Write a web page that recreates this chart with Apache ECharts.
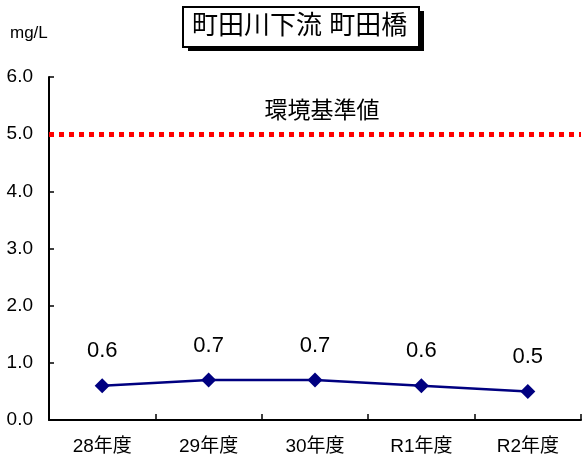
<!DOCTYPE html>
<html>
<head>
<meta charset="utf-8">
<script src="https://cdn.jsdelivr.net/npm/echarts@6/dist/echarts.min.js"></script>
<style>
  html, body { margin: 0; padding: 0; background: #fff; }
  #chart { width: 582px; height: 466px; }
</style>
</head>
<body>
<div id="chart"></div>
<script>
// データ
const categories = ['28年度', '29年度', '30年度', 'R1年度', 'R2年度']
const values = [0.6, 0.7, 0.7, 0.6, 0.5]
const standardValue = 5.0
const standardLabel = '環境基準値'
const titleText = '町田川下流 町田橋'
const unitText = 'mg/L'

const font = '"Liberation Sans", "Noto Sans CJK JP", sans-serif'

const chart = echarts.init(document.getElementById('chart'))

const option = {
  animation: false,
  backgroundColor: '#fff',
  grid: { left: 49, right: 1, top: 77, bottom: 46 },
  graphic: [
    // タイトル枠（影付き）
    { type: 'rect', left: 188, top: 11, shape: { width: 236, height: 40 }, style: { fill: '#000' }, z: 10 },
    { type: 'rect', left: 182, top: 6, shape: { width: 236, height: 40 }, style: { fill: '#fff', stroke: '#000', lineWidth: 2 }, z: 11 },
    {
      type: 'text', left: 192, top: 14, z: 12,
      style: { text: titleText, font: '26px ' + font, fill: '#000' }
    },
    {
      type: 'text', left: 10, top: 25, z: 12,
      style: { text: unitText, font: '17px ' + font, fill: '#000' }
    }
  ],
  xAxis: {
    type: 'category',
    data: categories,
    boundaryGap: true,
    axisLine: { lineStyle: { color: '#000', width: 2 } },
    axisTick: { show: true, inside: true, length: 6, lineStyle: { color: '#000', width: 1.5 } },
    axisLabel: { color: '#000', fontSize: 19, fontFamily: font, margin: 17 }
  },
  yAxis: {
    type: 'value',
    min: 0,
    max: 6,
    interval: 1,
    splitLine: { show: false },
    axisLine: { show: true, lineStyle: { color: '#000', width: 2 } },
    axisTick: { show: true, inside: true, length: 5, lineStyle: { color: '#000', width: 1.5 } },
    axisLabel: {
      color: '#000', fontSize: 19, fontFamily: font, margin: 16,
      formatter: v => v.toFixed(1)
    }
  },
  series: [
    {
      type: 'line',
      data: values,
      symbol: 'diamond',
      symbolSize: 15,
      lineStyle: { color: '#000080', width: 2.5 },
      itemStyle: { color: '#000080' },
      label: {
        show: true,
        position: 'top',
        distance: 16,
        color: '#000',
        fontSize: 22,
        fontFamily: font,
        formatter: p => p.value.toFixed(1)
      },
      markLine: {
        silent: true,
        symbol: 'none',
        data: [{ yAxis: standardValue }],
        lineStyle: { color: '#ff0000', width: 5, type: [5, 5] },
        label: {
          show: true,
          position: 'insideMiddleTop',
          distance: 11,
          formatter: standardLabel,
          color: '#000',
          fontSize: 23,
          fontFamily: font,
          offset: [7, 0]
        }
      }
    }
  ]
}

chart.setOption(option)
</script>
</body>
</html>
